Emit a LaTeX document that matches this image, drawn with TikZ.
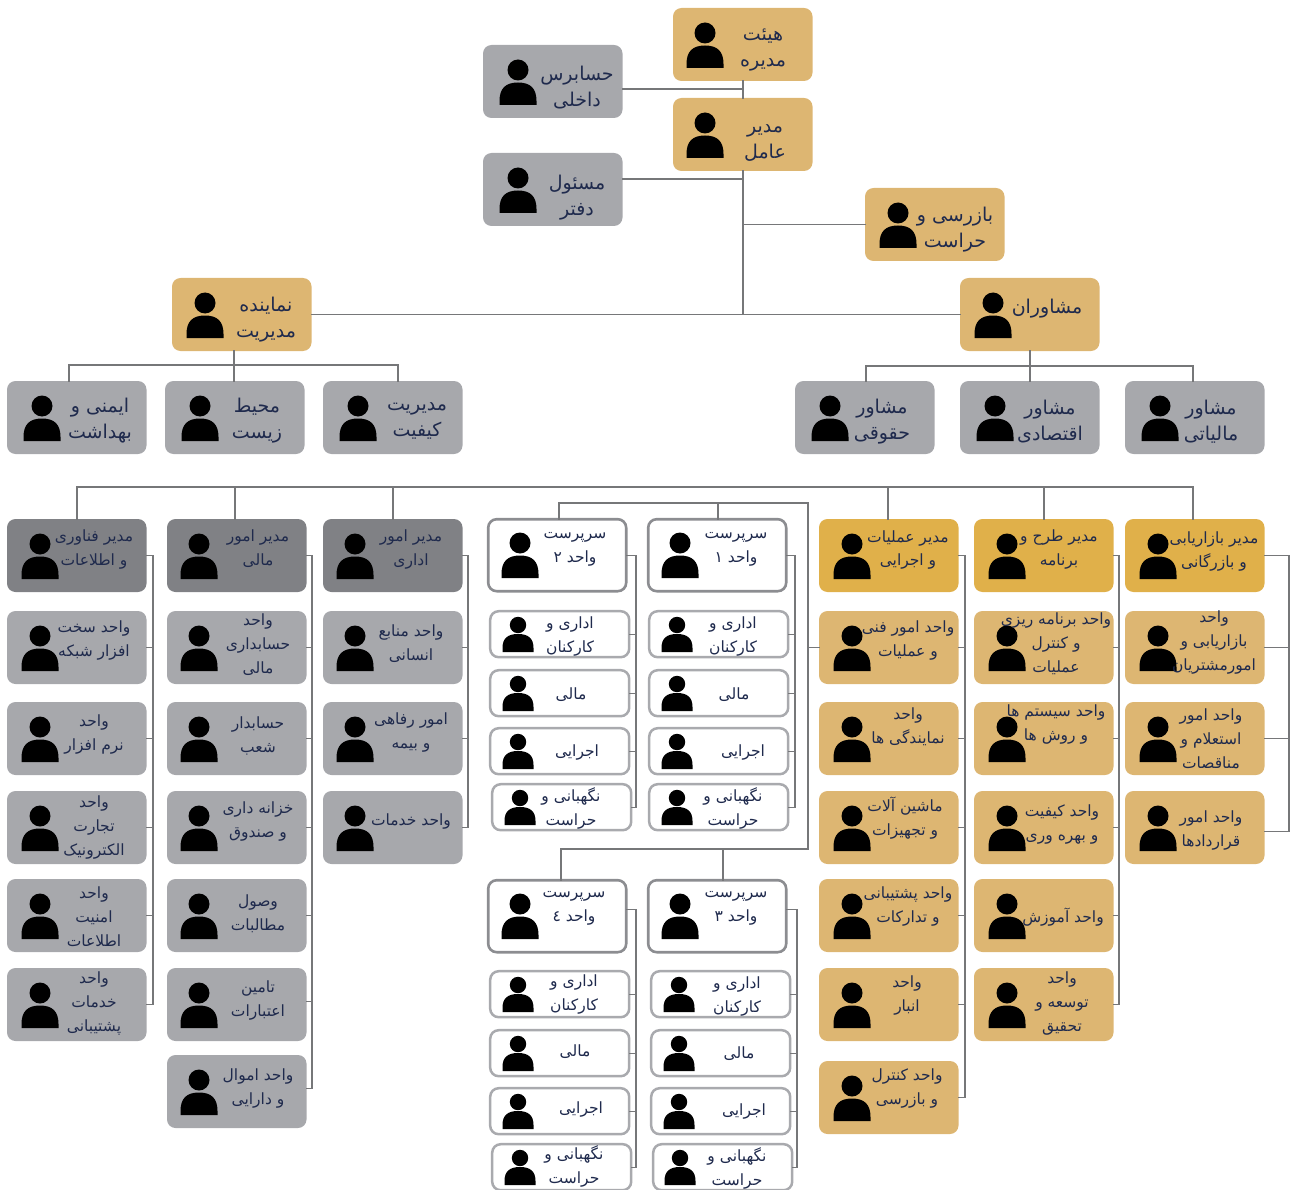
\documentclass[tikz,border=0pt]{standalone}
\usepackage{fontspec}
\setmainfont{DejaVu Sans}
\newfontfamily\arfont[Script=Arabic]{DejaVu Sans}
\TeXXeTstate=1
\definecolor{tan}{HTML}{DDB672}
\definecolor{gold}{HTML}{E0B04A}
\definecolor{lgray}{HTML}{A7A8AC}
\definecolor{dgray}{HTML}{808185}
\definecolor{ink}{HTML}{1F2A4D}
\definecolor{wire}{HTML}{767779}
\definecolor{edgeA}{HTML}{8C8D91}
\definecolor{edgeB}{HTML}{A9AAAE}
\tikzset{
  x=1pt,y=-1pt,
  box/.style={anchor=north west,inner sep=0pt,outer sep=0pt,rounded corners=8.5pt,minimum width=139.5pt,minimum height=73pt},
  tanbox/.style={box,fill=tan},
  goldbox/.style={box,fill=gold},
  graybox/.style={box,fill=lgray},
  darkbox/.style={box,fill=dgray},
  supbox/.style={box,fill=white,draw=edgeA,line width=2.6pt,minimum width=138pt,minimum height=72pt},
  subbox/.style={box,fill=white,draw=edgeB,line width=2.5pt,minimum width=139pt,minimum height=46pt},
  lab/.style={inner sep=0pt,align=center,text=ink},
  bigtext/.style={lab,yshift=-2pt,font=\arfont\fontsize{19}{26}\selectfont},
  midtext/.style={lab,yshift=-1pt,font=\arfont\fontsize{15.5}{24}\selectfont},
  conn/.style={draw=wire,line width=1.4pt,line cap=rect},
  who/.style={fill=black,draw=none}
}
\newcommand{\R}[1]{\beginR #1\endR}
% big figure: head x, box top
\newcommand{\figA}[2]{%
  \fill[who] (#1,#2+25) circle[radius=10.5pt];
  \fill[who] (#1-18.5,#2+60) -- (#1-18.5,#2+56) .. controls (#1-18.5,#2+43.5) and (#1-12.5,#2+37.5) .. (#1,#2+37.5) .. controls (#1+12.5,#2+37.5) and (#1+18.5,#2+43.5) .. (#1+18.5,#2+56) -- (#1+18.5,#2+60) -- cycle;}
% small figure
\newcommand{\figB}[2]{%
  \fill[who] (#1,#2+15) circle[radius=8.2pt];
  \fill[who] (#1-15.5,#2+42) -- (#1-15.5,#2+38) .. controls (#1-15.5,#2+28.5) and (#1-10.5,#2+24) .. (#1,#2+24) .. controls (#1+10.5,#2+24) and (#1+15.5,#2+28.5) .. (#1+15.5,#2+38) -- (#1+15.5,#2+42) -- cycle;}
% name, box style, left, top, head x, (text centre), text
\newcommand{\bigcard}[7]{\node[#2] (#1) at (#3,#4) {}; \figA{#5}{#4}; \node[bigtext] (#1-t) at #6 {#7};}
\newcommand{\midcard}[7]{\node[#2] (#1) at (#3,#4) {}; \figA{#5}{#4}; \node[midtext] (#1-t) at #6 {#7};}
\newcommand{\subcard}[6]{\node[subbox] (#1) at (#2+1.2,#3+1.2) {}; \figB{#4}{#3}; \node[midtext] (#1-t) at #5 {#6};}
\newcommand{\supcard}[6]{\node[supbox] (#1) at (#2+1.2,#3+1.2) {}; \figA{#4}{#3}; \node[midtext] (#1-t) at #5 {#6};}
% bus coordinate, first node/shift, last node/shift, list of node/shift
\newcommand{\comb}[6]{%
  \draw[conn] ([yshift=#3pt]#2.east -| #1) -- ([yshift=#5pt]#4.east -| #1);
  \foreach \c/\s in {#2/#3,#4/#5,#6}{\draw[conn] ([yshift=\s pt]\c.east) -- ([yshift=\s pt]\c.east -| #1);}}
\begin{document}
\begin{tikzpicture}
\useasboundingbox (0,0) rectangle (1290,1190);
\clip (0,0) rectangle (1290,1190);
% ---- top tier cards
\bigcard{hd}{tanbox}{673}{8}{705}{(763,48)}{\R{هیئت}\\\R{مدیره}}
\bigcard{aud}{graybox}{483}{45}{518}{(577,86)}{\R{حسابرس}\\\R{داخلی}}
\bigcard{mgr}{tanbox}{673}{98}{705}{(765,141)}{\R{مدیر}\\\R{عامل}}
\bigcard{off}{graybox}{483}{153}{518}{(577,196)}{\R{مسئول}\\\R{دفتر}}
\bigcard{insp}{tanbox}{865}{188}{898}{(955,228)}{\R{بازرسی و}\\\R{حراست}}
\bigcard{rep}{tanbox}{172}{278}{205}{(266,318)}{\R{نماینده}\\\R{مدیریت}}
\bigcard{adv}{tanbox}{960}{278}{993}{(1047,307)}{\R{مشاوران}}
\bigcard{saf}{graybox}{7}{381}{42}{(100,419)}{\R{ایمنی و}\\\R{بهداشت}}
\bigcard{env}{graybox}{165}{381}{200}{(257,419)}{\R{محیط}\\\R{زیست}}
\bigcard{qua}{graybox}{323}{381}{358}{(417,419)}{\R{مدیریت}\\\R{کیفیت}}
\bigcard{law}{graybox}{795}{381}{830}{(882,420)}{\R{مشاور}\\\R{حقوقی}}
\bigcard{eco}{graybox}{960}{381}{995}{(1050,420)}{\R{مشاور}\\\R{اقتصادی}}
\bigcard{tax}{graybox}{1125}{381}{1160}{(1211,420)}{\R{مشاور}\\\R{مالیاتی}}
% ---- column 1
\midcard{it}{darkbox}{7}{519}{40}{(94,548)}{\R{مدیر فناوری}\\\R{و اطلاعات}}
\midcard{it1}{graybox}{7}{611}{40}{(94,639)}{\R{واحد سخت}\\\R{افزار شبکه}}
\midcard{it2}{graybox}{7}{702}{40}{(94,733)}{\R{واحد}\\\R{نرم افزار}}
\midcard{it3}{graybox}{7}{791}{40}{(94,826)}{\R{واحد}\\\R{تجارت}\\\R{الکترونیک}}
\midcard{it4}{graybox}{7}{879}{40}{(94,916)}{\R{واحد}\\\R{امنیت}\\\R{اطلاعات}}
\midcard{it5}{graybox}{7}{968}{40}{(94,1002)}{\R{واحد}\\\R{خدمات}\\\R{پشتیبانی}}
% ---- column 2
\midcard{fi}{darkbox}{167}{519}{199}{(258,548)}{\R{مدیر امور}\\\R{مالی}}
\midcard{fi1}{graybox}{167}{611}{199}{(258,644)}{\R{واحد}\\\R{حسابداری}\\\R{مالی}}
\midcard{fi2}{graybox}{167}{702}{199}{(258,735)}{\R{حسابدار}\\\R{شعب}}
\midcard{fi3}{graybox}{167}{791}{199}{(258,820)}{\R{خزانه داری}\\\R{و صندوق}}
\midcard{fi4}{graybox}{167}{879}{199}{(258,913)}{\R{وصول}\\\R{مطالبات}}
\midcard{fi5}{graybox}{167}{968}{199}{(258,999)}{\R{تامین}\\\R{اعتبارات}}
\midcard{fi6}{graybox}{167}{1055}{199}{(258,1087)}{\R{واحد اموال}\\\R{و دارایی}}
% ---- column 3
\midcard{ad}{darkbox}{323}{519}{355}{(411,548)}{\R{مدیر امور}\\\R{اداری}}
\midcard{ad1}{graybox}{323}{611}{355}{(411,643)}{\R{واحد منابع}\\\R{انسانی}}
\midcard{ad2}{graybox}{323}{702}{355}{(411,731)}{\R{امور رفاهی}\\\R{و بیمه}}
\midcard{ad3}{graybox}{323}{791}{355}{(411,820)}{\R{واحد خدمات}}
% ---- supervisors
\supcard{s2}{487}{518}{520}{(575,548)}{\R{سرپرست}\\\R{واحد ۲}}
\subcard{s2a}{489}{610}{518}{(570,635)}{\R{اداری و}\\\R{کارکنان}}
\subcard{s2b}{489}{669}{518}{(571,694)}{\R{مالی}}
\subcard{s2c}{489}{727}{518}{(577,751)}{\R{اجرایی}}
\subcard{s2d}{491}{783}{520}{(571,807)}{\R{نگهبانی و}\\\R{حراست}}
\supcard{s1}{647}{518}{680}{(736,548)}{\R{سرپرست}\\\R{واحد ۱}}
\subcard{s1a}{648}{610}{677}{(733,635)}{\R{اداری و}\\\R{کارکنان}}
\subcard{s1b}{648}{669}{677}{(734,694)}{\R{مالی}}
\subcard{s1c}{648}{727}{677}{(743,751)}{\R{اجرایی}}
\subcard{s1d}{648}{783}{677}{(733,807)}{\R{نگهبانی و}\\\R{حراست}}
\supcard{s4}{487}{879}{520}{(574,907)}{\R{سرپرست}\\\R{واحد ٤}}
\subcard{s4a}{489}{970}{518}{(574,993)}{\R{اداری و}\\\R{کارکنان}}
\subcard{s4b}{489}{1029}{518}{(575,1051)}{\R{مالی}}
\subcard{s4c}{489}{1087}{518}{(581,1108)}{\R{اجرایی}}
\subcard{s4d}{491}{1143}{520}{(574,1165)}{\R{نگهبانی و}\\\R{حراست}}
\supcard{s3}{647}{879}{680}{(736,907)}{\R{سرپرست}\\\R{واحد ۳}}
\subcard{s3a}{650}{970}{679}{(737,995)}{\R{اداری و}\\\R{کارکنان}}
\subcard{s3b}{650}{1029}{679}{(739,1053)}{\R{مالی}}
\subcard{s3c}{650}{1087}{679}{(744,1110)}{\R{اجرایی}}
\subcard{s3d}{652}{1143}{680}{(737,1167)}{\R{نگهبانی و}\\\R{حراست}}
% ---- column A
\midcard{op}{goldbox}{819}{519}{852}{(908,549)}{\R{مدیر عملیات}\\\R{و اجرایی}}
\midcard{op1}{tanbox}{819}{611}{852}{(908,639)}{\R{واحد امور فنی}\\\R{و عملیات}}
\midcard{op2}{tanbox}{819}{702}{852}{(908,726)}{\R{واحد}\\\R{نمایندگی ها}}
\midcard{op3}{tanbox}{819}{791}{852}{(905,817)}{\R{ماشین آلات}\\\R{و تجهیزات}}
\midcard{op4}{tanbox}{819}{879}{852}{(908,905)}{\R{واحد پشتیبانی}\\\R{و تدارکات}}
\midcard{op5}{tanbox}{819}{968}{852}{(907,994)}{\R{واحد}\\\R{انبار}}
\midcard{op6}{tanbox}{819}{1061}{852}{(907,1087)}{\R{واحد کنترل}\\\R{و بازرسی}}
% ---- column B
\midcard{pl}{goldbox}{974}{519}{1007}{(1059,548)}{\R{مدیر طرح و}\\\R{برنامه}}
\midcard{pl1}{tanbox}{974}{611}{1007}{(1056,643)}{\R{واحد برنامه ریزی}\\\R{و کنترل}\\\R{عملیات}}
\midcard{pl2}{tanbox}{974}{702}{1007}{(1056,723)}{\R{واحد سیستم ها}\\\R{و روش ها}}
\midcard{pl3}{tanbox}{974}{791}{1007}{(1062,823)}{\R{واحد کیفیت}\\\R{و بهره وری}}
\midcard{pl4}{tanbox}{974}{879}{1007}{(1063,916)}{\R{واحد آموزش}}
\midcard{pl5}{tanbox}{974}{968}{1007}{(1062,1002)}{\R{واحد}\\\R{توسعه و}\\\R{تحقیق}}
% ---- column C
\midcard{mk}{goldbox}{1125}{519}{1158}{(1214,551)}{\R{مدیر بازاریابی}\\\R{و بازرگانی}}
\midcard{mk1}{tanbox}{1125}{611}{1158}{(1214,641)}{\R{واحد}\\\R{بازاریابی و}\\\R{امورمشتریان}}
\midcard{mk2}{tanbox}{1125}{702}{1158}{(1211,738)}{\R{واحد امور}\\\R{استعلام و}\\\R{مناقصات}}
\midcard{mk3}{tanbox}{1125}{791}{1158}{(1211,829)}{\R{واحد امور}\\\R{قراردادها}}
% ---- named junctions
\coordinate (spine) at (743,0);
\coordinate (hbL) at (69,365);
\coordinate (hbM) at (234,365);
\coordinate (hbR) at (398,365);
\coordinate (abL) at (866,366);
\coordinate (abM) at (1030,366);
\coordinate (abR) at (1193,366);
\coordinate (mL) at (77,487);
\coordinate (m2) at (235,487);
\coordinate (m3) at (393,487);
\coordinate (m5) at (888,487);
\coordinate (m6) at (1044,487);
\coordinate (mR) at (1193,487);
\coordinate (u1) at (559,503);
\coordinate (u2) at (718,503);
\coordinate (uR) at (808,503);
\coordinate (w1) at (561,849);
\coordinate (w2) at (723,849);
\coordinate (wR) at (808,849);
\coordinate (b1) at (153,0);
\coordinate (b2) at (312,0);
\coordinate (b3) at (468,0);
\coordinate (bs1) at (795,0);
\coordinate (bs2) at (636,0);
\coordinate (bs3) at (797,0);
\coordinate (bs4) at (636,0);
\coordinate (bA) at (965,0);
\coordinate (bB) at (1119,0);
\coordinate (bC) at (1289,0);
% ---- top connectors
\draw[conn] (spine |- hd.south) -- (spine |- mgr.north);
\draw[conn] (aud.east |- 0,89) -- (spine |- 0,89);
\draw[conn] (spine |- mgr.south) -- (spine |- rep.east);
\draw[conn] (off.east |- 0,179) -- (spine |- 0,179);
\draw[conn] (insp.west) -- (insp.west -| spine);
\draw[conn] (rep.east) -- (adv.west);
\draw[conn] (hbM |- rep.south) -- (hbM |- saf.north);
\draw[conn] (hbL |- saf.north) -- (hbL) -- (hbR) -- (hbR |- qua.north);
\draw[conn] (abM |- adv.south) -- (abM |- eco.north);
\draw[conn] (abL |- law.north) -- (abL) -- (abR) -- (abR |- tax.north);
% ---- main bus
\draw[conn] (mL |- it.north) -- (mL) -- (mR) -- (mR |- mk.north);
\draw[conn] (m2) -- (m2 |- fi.north);
\draw[conn] (m3) -- (m3 |- ad.north);
\draw[conn] (m5) -- (m5 |- op.north);
\draw[conn] (m6) -- (m6 |- pl.north);
% ---- supervisor buses
\draw[conn] (u1 |- s2.north) -- (u1) -- (uR) -- (wR) -- (w1) -- (w1 |- s4.north);
\draw[conn] (u2) -- (u2 |- s1.north);
\draw[conn] (w2) -- (w2 |- s3.north);
\draw[conn] (op1.west) -- (op1.west -| uR);
% ---- combs
\comb{b1}{it}{0}{it5}{0}{it1/0,it2/0,it3/0,it4/0}
\comb{b2}{fi}{0}{fi6}{3}{fi1/0,fi2/0,fi3/0,fi4/0,fi5/3}
\comb{b3}{ad}{0}{ad3}{0}{ad1/0,ad2/0}
\comb{bs2}{s2}{0}{s2d}{0}{s2a/0,s2b/0,s2c/0}
\comb{bs1}{s1}{0}{s1d}{0}{s1a/0,s1b/0,s1c/0}
\comb{bs4}{s4}{7}{s4d}{0}{s4a/0,s4b/0,s4c/0}
\comb{bs3}{s3}{7}{s3d}{0}{s3a/0,s3b/0,s3c/0}
\comb{bA}{op}{0}{op6}{0}{op1/0,op2/0,op3/0,op4/0,op5/0}
\comb{bB}{pl}{0}{pl5}{0}{pl1/0,pl2/0,pl3/0,pl4/0}
\comb{bC}{mk}{0}{mk3}{-4}{mk1/0,mk2/0}
\end{tikzpicture}
\end{document}
